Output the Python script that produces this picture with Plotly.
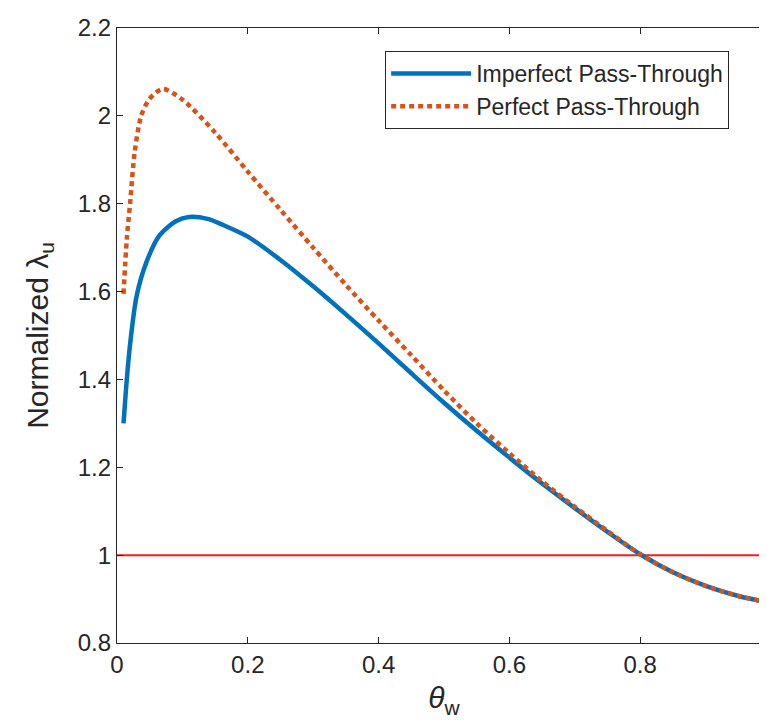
import plotly.graph_objects as go

# data
theta_imperfect = [0.01, 0.015, 0.02, 0.03, 0.045, 0.065, 0.09, 0.11, 0.14, 0.16, 0.2, 0.25,
                   0.3, 0.35, 0.4, 0.45, 0.5, 0.55, 0.6, 0.65, 0.7, 0.75, 0.8, 0.85, 0.9, 0.95, 0.99]
lam_imperfect = [1.30, 1.40, 1.48, 1.59, 1.667, 1.728, 1.760, 1.770, 1.765, 1.753, 1.725, 1.672,
                 1.612, 1.548, 1.482, 1.414, 1.347, 1.283, 1.222, 1.163, 1.107, 1.053, 1.002,
                 0.961, 0.930, 0.907, 0.894]

theta_perfect = [0.01, 0.015, 0.02, 0.027, 0.037, 0.05, 0.07, 0.1, 0.15, 0.2, 0.25, 0.3, 0.35,
                 0.4, 0.45, 0.5, 0.55, 0.6, 0.65, 0.7, 0.75, 0.8, 0.85, 0.9, 0.95, 0.99]
lam_perfect = [1.595, 1.72, 1.80, 1.917, 2.0, 2.039, 2.061, 2.037, 1.962, 1.873, 1.786, 1.700,
               1.615, 1.534, 1.455, 1.375, 1.300, 1.232, 1.168, 1.110, 1.055, 1.002, 0.961,
               0.930, 0.907, 0.894]

ref_x = [0, 1]
ref_y = [1, 1]

x_ticks = [0, 0.2, 0.4, 0.6, 0.8, 1]
x_tick_labels = ["0", "0.2", "0.4", "0.6", "0.8", "1"]
y_ticks = [0.8, 1.0, 1.2, 1.4, 1.6, 1.8, 2.0, 2.2]
y_tick_labels = ["0.8", "1", "1.2", "1.4", "1.6", "1.8", "2", "2.2"]

FONT = "Arial, Liberation Sans, Helvetica, sans-serif"
AX = "#262626"

fig = go.Figure()
fig.add_trace(go.Scatter(x=ref_x, y=ref_y, mode="lines", showlegend=False,
                         line=dict(color="#FF1A1A", width=2)))
fig.add_trace(go.Scatter(x=theta_imperfect, y=lam_imperfect, mode="lines",
                         name="Imperfect Pass-Through",
                         line=dict(color="#0072BD", width=4.5, shape="spline", smoothing=0.8)))
fig.add_trace(go.Scatter(x=theta_perfect, y=lam_perfect, mode="lines",
                         name="Perfect Pass-Through",
                         line=dict(color="#D95319", width=4.5, dash="5px,4px", shape="spline", smoothing=0.8)))

axis_common = dict(showline=True, linecolor=AX, linewidth=1.3, mirror="ticks",
                   ticks="inside", ticklen=6, tickwidth=1.2, tickcolor=AX,
                   showgrid=False, zeroline=False, automargin=False,
                   ticklabeloverflow="allow",
                   tickfont=dict(family=FONT, size=24, color=AX))

fig.update_xaxes(range=[0, 1], tickvals=x_ticks, ticktext=x_tick_labels,
                 title=dict(text="<i>θ</i><sub>w</sub>", font=dict(family=FONT, size=30, color=AX), standoff=10),
                 **axis_common)
fig.update_yaxes(range=[0.8, 2.2], tickvals=y_ticks, ticktext=y_tick_labels,
                 title=dict(text="Normalized λ<sub>u</sub>", font=dict(family=FONT, size=30, color=AX), standoff=20),
                 **axis_common)

fig.update_layout(
    width=767, height=727,
    margin=dict(l=109, r=4, t=20, b=92),
    plot_bgcolor="white", paper_bgcolor="white",
    font=dict(family=FONT, color=AX),
    legend=dict(x=0.41, y=0.9626, xanchor="left", yanchor="top",
                bgcolor="white", bordercolor=AX, borderwidth=1,
                font=dict(family=FONT, size=23, color=AX), itemwidth=80,
                tracegroupgap=0),
)

fig.write_html("out.html")
